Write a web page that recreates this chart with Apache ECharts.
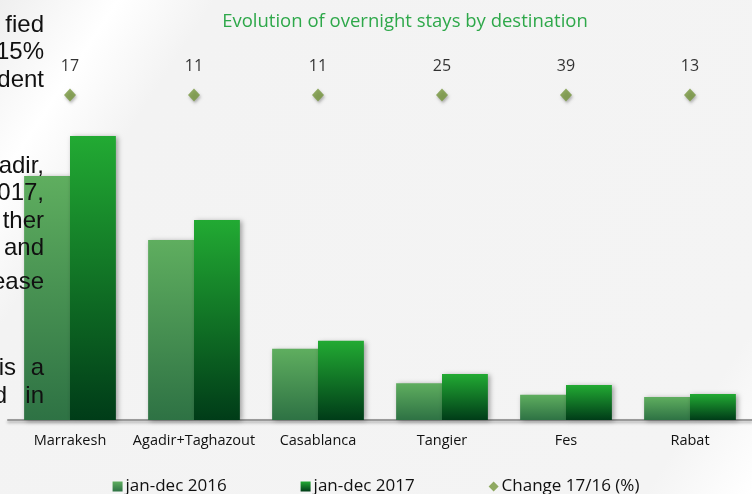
<!DOCTYPE html>
<html><head><meta charset="utf-8">
<script src="https://cdn.jsdelivr.net/npm/echarts@6/dist/echarts.min.js"></script>
<style>html,body{margin:0;padding:0;}#c{width:752px;height:494px;}</style>
</head><body><div id="c"></div>
<script>
const categories = ['Marrakesh','Agadir+Taghazout','Casablanca','Tangier','Fes','Rabat'];
const stays2016 = [6100, 4500, 1780, 920, 630, 575];
const stays2017 = [7100, 5000, 1980, 1150, 875, 650];
const change = [17, 11, 11, 25, 39, 13];
const seriesNames = ['jan-dec 2016','jan-dec 2017','Change 17/16 (%)'];
const sideText = [
  ['fied',25],['15%',52],['dent',80],
  ['adir,',166],['017,',193],['ther',221],['and',248],['ease',282]
];
const sideJustified = [[['is',16],['a',44],368],[['d',7],['in',44],396]];

const chart = echarts.init(document.getElementById('c'), null, {renderer:'canvas'});
const grad = (c1,c2)=>new echarts.graphic.LinearGradient(0,0,0,1,[{offset:0,color:c1},{offset:1,color:c2}]);
const shadow = {shadowColor:'rgba(0,0,0,0.35)',shadowBlur:5,shadowOffsetX:2,shadowOffsetY:1};

const graphics = [];
const addText = (t,x,y)=>graphics.push({type:'text',x:x,y:y,z:100,
  style:{text:t,fontSize:24,fontFamily:'"Liberation Sans", Arial, sans-serif',fill:'#111',
    align:'right',verticalAlign:'middle'}});
sideText.forEach(([t,y])=>addText(t,44,y));
sideJustified.forEach(([a,b,y])=>{ addText(a[0],a[1],y); addText(b[0],b[1],y); });

chart.setOption({
  backgroundColor: new echarts.graphic.LinearGradient(0,0,1,1,[
    {offset:0,color:'#efefef'},{offset:0.11,color:'#ffffff'},{offset:0.2,color:'#f3f3f3'},
    {offset:0.9,color:'#f4f4f4'},{offset:1,color:'#ffffff'}]),
  animation:false,
  textStyle:{fontFamily:'"Open Sans", sans-serif'},
  title:{text:'Evolution of overnight stays by destination',left:400,textAlign:'center',top:7,
    textStyle:{color:'#2ea84a',fontSize:18.5,fontWeight:'normal',fontFamily:'"Open Sans", sans-serif'}},
  legend:{bottom:-6,left:'center',itemGap:74,itemWidth:10,itemHeight:10,
    textStyle:{fontSize:17,color:'#111',padding:[0,0,0,-2]},
    data:[{name:seriesNames[0],icon:'rect'},{name:seriesNames[1],icon:'rect'},{name:seriesNames[2],icon:'diamond'}]},
  graphic: graphics,
  grid:[{left:8,right:-2,top:120,bottom:74},{left:8,right:-2,top:85,height:20}],
  xAxis:[
    {type:'category',data:categories,gridIndex:0,
     axisLine:{lineStyle:{color:'#9a9a9a',width:2,shadowColor:'rgba(0,0,0,0.3)',shadowBlur:3,shadowOffsetY:2}},
     axisTick:{show:false},axisLabel:{color:'#111',fontSize:14.5,margin:13,interval:0}},
    {type:'category',data:categories,gridIndex:1,show:false}
  ],
  yAxis:[
    {type:'value',min:0,max:7500,gridIndex:0,show:false},
    {type:'value',min:-1,max:1,gridIndex:1,show:false}
  ],
  series:[
    {name:seriesNames[0],type:'bar',data:stays2016,barGap:'0%',barCategoryGap:'26%',
     itemStyle:Object.assign({color:grad('#5fae5f','#2e7244')},shadow)},
    {name:seriesNames[1],type:'bar',data:stays2017,
     itemStyle:Object.assign({color:grad('#22aa33','#003c18')},shadow)},
    {name:seriesNames[2],type:'scatter',xAxisIndex:1,yAxisIndex:1,
     data:change.map((v,i)=>[i,0]),symbol:'diamond',symbolSize:[12,13],
     itemStyle:{color:'#76963c',shadowColor:'rgba(0,0,0,0.35)',shadowBlur:3,shadowOffsetX:1,shadowOffsetY:2},
     label:{show:true,position:'top',distance:14,color:'#000',fontSize:16,
       formatter:p=>String(change[p.dataIndex])}}
  ]
});
</script></body></html>
